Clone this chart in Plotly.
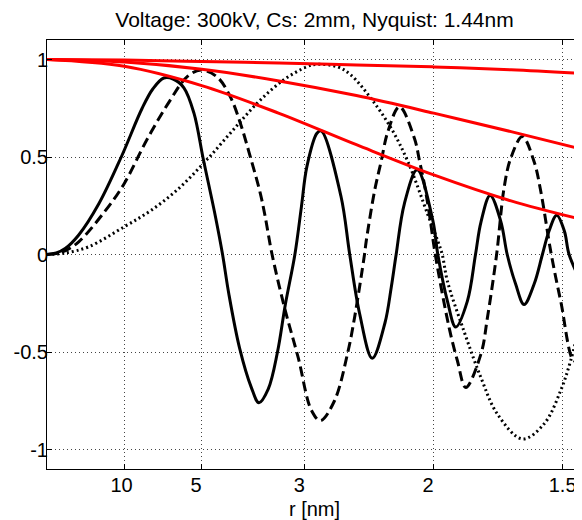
import plotly.graph_objects as go

# spatial frequency [1/nm] and CTF values
solid_f = [0.000, 0.012, 0.024, 0.041, 0.067, 0.096, 0.123, 0.137, 0.151, 0.163, 0.177, 0.190, 0.2015,
           0.209, 0.218, 0.227,
           0.235, 0.249, 0.264, 0.274, 0.286, 0.298, 0.308, 0.3205, 0.329, 0.336, 0.349, 0.3545,
           0.380, 0.3914, 0.404, 0.4205, 0.437, 0.445, 0.4514, 0.462, 0.4786, 0.4988, 0.5053,
           0.5177, 0.5285, 0.5435, 0.554, 0.561, 0.5729, 0.5867, 0.595, 0.606, 0.6168, 0.6297,
           0.6405, 0.649, 0.659, 0.669, 0.675, 0.692]
solid_v = [0.000, 0.008, 0.032, 0.100, 0.260, 0.500, 0.750, 0.850, 0.905, 0.900, 0.855, 0.725, 0.500,
           0.360, 0.190, 0.000,
           -0.200, -0.480, -0.680, -0.760, -0.690, -0.500, -0.260, 0.000, 0.247, 0.451, 0.622, 0.634,
           0.300, 0.000, -0.300, -0.532, -0.350, -0.170, 0.000, 0.260, 0.434, 0.175, 0.000,
           -0.239, -0.372, -0.239, 0.000, 0.165, 0.303, 0.170, 0.000, -0.153, -0.256, -0.153,
           0.000, 0.119, 0.201, 0.119, 0.000, -0.153]

dashed_f = [0.000, 0.012, 0.024, 0.041, 0.0755, 0.099, 0.130, 0.1594, 0.181, 0.199, 0.2198, 0.237, 0.250,
            0.2628, 0.2757, 0.282, 0.291, 0.3076, 0.3248, 0.342, 0.3536, 0.3717, 0.389, 0.3976,
            0.4105, 0.4127, 0.4234, 0.432, 0.4407, 0.4557, 0.475, 0.4818, 0.488, 0.4945, 0.502,
            0.5199, 0.5306, 0.5414, 0.561, 0.5694, 0.5813, 0.5909, 0.5996, 0.6146, 0.6297, 0.6384,
            0.652, 0.6642, 0.6814, 0.692]
dashed_v = [0.000, 0.005, 0.020, 0.065, 0.225, 0.358, 0.595, 0.792, 0.911, 0.946, 0.911, 0.809, 0.673,
            0.502, 0.315, 0.196, 0.000, -0.280, -0.529, -0.800, -0.852, -0.750, -0.500, -0.324,
            0.000, 0.068, 0.324, 0.477, 0.630, 0.758, 0.596, 0.477, 0.358, 0.204, 0.000,
            -0.375, -0.545, -0.682, -0.511, -0.324, 0.000, 0.340, 0.494, 0.605, 0.477, 0.324,
            0.000, -0.239, -0.545, -0.494]

dotted_f = [0.000, 0.024, 0.054, 0.101, 0.134, 0.168, 0.2025, 0.237, 0.2715, 0.3058, 0.336, 0.348,
            0.376, 0.393, 0.419, 0.445, 0.4665, 0.4924, 0.5053, 0.511, 0.5177, 0.539, 0.561,
            0.5823, 0.6146, 0.6426, 0.664, 0.677, 0.692]
dotted_v = [0.000, 0.008, 0.040, 0.145, 0.225, 0.330, 0.468, 0.622, 0.775, 0.895, 0.963, 0.975,
            0.962, 0.920, 0.800, 0.647, 0.477, 0.204, 0.068, 0.000, -0.137, -0.392, -0.631,
            -0.818, -0.946, -0.869, -0.699, -0.545, -0.307]

# envelope curves
env_f = [0.0, 0.1, 0.2, 0.3, 0.4, 0.5, 0.6, 0.692]
env_top = [1.0, 0.997, 0.990, 0.982, 0.972, 0.962, 0.947, 0.928]
env_mid = [1.0, 0.987, 0.950, 0.890, 0.815, 0.725, 0.630, 0.540]
env_low = [1.0, 0.965, 0.866, 0.724, 0.563, 0.408, 0.275, 0.179]

tick_r = [10, 5, 3, 2, 1.5]
y_ticks = [-1, -0.5, 0, 0.5, 1]
y_labels = ["-1", "-0.5", "0", "0.5", "1"]

title_text = "Voltage: 300kV, Cs: 2mm, Nyquist: 1.44nm"

x_tickvals = [1.0 / r for r in tick_r]
x_ticktext = []
for r in tick_r:
    s = ("%g" % r)
    x_ticktext.append(s + "\u00a0" * (3 - len(s)))

fig = go.Figure()
fig.add_trace(go.Scatter(x=solid_f, y=solid_v, mode="lines",
                         line=dict(color="black", width=3, shape="spline"), showlegend=False))
fig.add_trace(go.Scatter(x=dashed_f, y=dashed_v, mode="lines",
                         line=dict(color="black", width=3, dash="10px,5px", shape="spline"), showlegend=False))
fig.add_trace(go.Scatter(x=dotted_f, y=dotted_v, mode="lines",
                         line=dict(color="black", width=3, dash="2px,3px", shape="spline"), showlegend=False))
for env in (env_top, env_mid, env_low):
    fig.add_trace(go.Scatter(x=env_f, y=env, mode="lines",
                             line=dict(color="#ff0000", width=3, shape="spline"), showlegend=False))

font_family = "Liberation Sans, Arial, Helvetica, sans-serif"
fig.update_layout(
    width=574, height=512,
    margin=dict(l=39, r=0, t=32, b=51),
    paper_bgcolor="white", plot_bgcolor="white",
    font=dict(family=font_family, size=20, color="black"),
    title=dict(text=title_text, x=0.5, xanchor="center", xref="paper",
               y=1 - 11.5 / 512, yanchor="middle", yref="container",
               font=dict(size=21, family=font_family, color="black")),
)
fig.update_xaxes(
    range=[0, 0.6917],
    tickmode="array", tickvals=x_tickvals, ticktext=x_ticktext,
    ticks="inside", ticklen=5, tickcolor="black", tickwidth=1,
    showline=True, linecolor="black", linewidth=1, mirror="ticks",
    showgrid=True, gridcolor="#444444", gridwidth=1, griddash="1px,3px",
    zeroline=False, ticklabelstandoff=-2,
    title=dict(text="r [nm]", standoff=6, font=dict(size=20)),
    tickfont=dict(size=20),
)
fig.update_yaxes(
    range=[-1.1, 1.1],
    tickmode="array", tickvals=y_ticks, ticktext=y_labels,
    ticks="inside", ticklen=5, tickcolor="black", tickwidth=1,
    showline=True, linecolor="black", linewidth=1,
    showgrid=True, gridcolor="#444444", gridwidth=1, griddash="1px,3px",
    zeroline=False, ticklabelstandoff=-6,
    tickfont=dict(size=20),
)

fig.write_html("out.html")
